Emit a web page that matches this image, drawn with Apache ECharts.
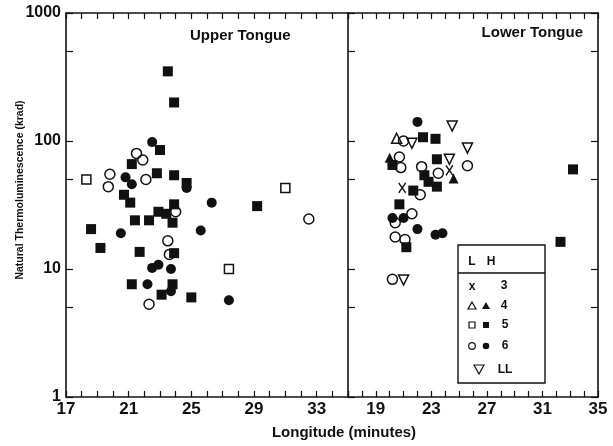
<!DOCTYPE html>
<html><head><meta charset="utf-8">
<script src="https://cdn.jsdelivr.net/npm/echarts@6/dist/echarts.min.js"></script>
<style>html,body{margin:0;padding:0;background:#fff}#c{width:613px;height:446px}</style>
</head><body><div id="c"></div>
<script>
// ---- tick labels ----
const xLabelsUpper = [17, 21, 25, 29, 33];
const xLabelsLower = [19, 23, 27, 31, 35];
const yLabels = [1, 10, 100, 1000];
const yTicks = [1, 5, 10, 50, 100, 500, 1000];
const legendRows = ['3', '4', '5', '6', 'LL'];

// ---- Upper Tongue data [longitude, TL krad] ----
const upperOpenSquare5 = [[18.3, 50], [31.0, 43], [27.4, 10]];
const upperFilledSquare5 = [[23.5, 350], [23.9, 200], [23.0, 85], [21.2, 66], [22.8, 56], [23.9, 54], [24.7, 47],
  [20.7, 38], [21.1, 33], [23.9, 32], [29.2, 31], [22.9, 28], [23.4, 27], [21.4, 24], [22.3, 24], [23.8, 23],
  [18.6, 20.5], [19.2, 14.6], [21.7, 13.6], [23.9, 13.3], [21.2, 7.6], [23.8, 7.6], [23.1, 6.3], [25.0, 6.0]];
const upperOpenCircle6 = [[21.5, 80], [21.9, 71], [19.8, 55], [22.1, 50], [19.7, 44], [24.0, 28], [32.5, 24.6],
  [23.5, 16.6], [23.6, 13.0], [22.3, 5.3]];
const upperFilledCircle6 = [[22.5, 98], [20.8, 52], [21.2, 46], [24.7, 43], [26.3, 33], [20.5, 19], [25.6, 20],
  [22.5, 10.2], [22.9, 10.8], [23.7, 10], [22.2, 7.6], [23.7, 6.7], [27.4, 5.7]];

// ---- Lower Tongue data ----
const lowerCross3 = [[24.3, 59], [20.9, 43]];
const lowerOpenTri4 = [[20.5, 105]];
const lowerFilledTri4 = [[20.0, 74], [24.6, 51]];
const lowerFilledSquare5 = [[22.4, 107], [23.3, 104], [20.2, 65], [23.4, 72], [22.5, 54], [22.8, 48], [23.4, 44],
  [21.7, 41], [20.7, 32], [21.2, 14.8], [33.2, 60], [32.3, 16.3]];
const lowerOpenCircle6 = [[21.0, 100], [20.7, 75], [20.8, 62], [22.3, 63], [25.6, 64], [23.5, 56], [22.2, 38],
  [21.6, 27], [20.4, 23], [20.4, 17.8], [21.1, 17], [20.2, 8.3]];
const lowerFilledCircle6 = [[22.0, 141], [20.2, 25], [21.0, 25], [22.0, 20.5], [23.3, 18.5], [23.8, 19]];
const lowerOpenDownTriLL = [[24.5, 131], [21.6, 96], [25.6, 88], [24.3, 72], [21.0, 8.2]];

const INK = '#111111';
const FONT = 'Liberation Sans, Arial, sans-serif';

function xAxisDef(grid, pos, labels) {
  return {
    type: 'value', gridIndex: grid, position: pos, min: 17, max: 35, interval: 1,
    axisLine: { show: true, lineStyle: { color: INK, width: 1.6 } },
    axisTick: { show: true, inside: true, length: 6, lineStyle: { color: INK, width: 1.2 } },
    splitLine: { show: false },
    axisLabel: labels ? {
      show: true, interval: 0, margin: 4, color: INK, fontFamily: FONT, fontWeight: 'bold', fontSize: 17,
      formatter: v => labels.indexOf(v) >= 0 ? String(v) : ''
    } : { show: false }
  };
}
function yAxisDef(grid, pos, showLabels) {
  return {
    type: 'log', logBase: 10, gridIndex: grid, position: pos, min: 1, max: 1000,
    axisLine: { show: true, lineStyle: { color: INK, width: 1.6 } },
    axisTick: { show: true, inside: true, length: 7, customValues: yTicks, lineStyle: { color: INK, width: 1.2 } },
    splitLine: { show: false },
    axisLabel: showLabels ? {
      show: true, margin: 5, color: INK, fontFamily: FONT, fontWeight: 'bold', fontSize: 16,
      customValues: yLabels, formatter: v => String(Math.round(v))
    } : { show: false }
  };
}

const openStyle = { color: 'rgba(0,0,0,0)', borderColor: INK, borderWidth: 1.5, opacity: 1 };
const fillStyle = { color: INK, opacity: 1 };
function sc(name, data, xi, yi, symbol, size, style, rot) {
  return { type: 'scatter', name, data, xAxisIndex: xi, yAxisIndex: yi, symbol, symbolSize: size,
    symbolRotate: rot || 0, itemStyle: style, clip: false, silent: true };
}
const crossPath = 'path://M0,0L10,12M10,0L0,12';

const chart = echarts.init(document.getElementById('c'));
chart.setOption({
  animation: false,
  backgroundColor: '#fff',
  grid: [
    { left: 66, top: 13, width: 282, height: 384 },
    { left: 348, top: 13, width: 250, height: 384 }
  ],
  xAxis: [
    xAxisDef(0, 'bottom', xLabelsUpper), xAxisDef(0, 'top', null),
    xAxisDef(1, 'bottom', xLabelsLower), xAxisDef(1, 'top', null)
  ],
  yAxis: [
    yAxisDef(0, 'left', true), yAxisDef(1, 'left', false), yAxisDef(1, 'right', false)
  ],
  series: [
    sc('U L5', upperOpenSquare5, 0, 0, 'rect', 9, openStyle),
    sc('U H5', upperFilledSquare5, 0, 0, 'rect', 10, fillStyle),
    sc('U L6', upperOpenCircle6, 0, 0, 'circle', 10, openStyle),
    sc('U H6', upperFilledCircle6, 0, 0, 'circle', 10, fillStyle),
    sc('L 3', lowerCross3, 2, 1, crossPath, [7, 10], { color: 'rgba(0,0,0,0)', borderColor: INK, borderWidth: 1.4, opacity: 1 }),
    sc('L L4', lowerOpenTri4, 2, 1, 'triangle', 10, openStyle),
    sc('L H4', lowerFilledTri4, 2, 1, 'triangle', 10, fillStyle),
    sc('L H5', lowerFilledSquare5, 2, 1, 'rect', 10, fillStyle),
    sc('L L6', lowerOpenCircle6, 2, 1, 'circle', 10, openStyle),
    sc('L H6', lowerFilledCircle6, 2, 1, 'circle', 10, fillStyle),
    sc('L LL', lowerOpenDownTriLL, 2, 1, 'triangle', 10, openStyle, 180)
  ],
  graphic: [
    { type: 'text', x: 20, y: 190, rotation: Math.PI / 2,
      style: { text: 'Natural Thermoluminescence (krad)', fill: INK, font: 'bold 10.5px ' + FONT, align: 'center', verticalAlign: 'middle' } },
    { type: 'text', x: 344, y: 433,
      style: { text: 'Longitude (minutes)', fill: INK, font: 'bold 15px ' + FONT, align: 'center', verticalAlign: 'middle' } },
    { type: 'text', x: 190, y: 36,
      style: { text: 'Upper Tongue', fill: INK, font: 'bold 15px ' + FONT, align: 'left', verticalAlign: 'middle' } },
    { type: 'text', x: 583, y: 33,
      style: { text: 'Lower Tongue', fill: INK, font: 'bold 15px ' + FONT, align: 'right', verticalAlign: 'middle' } },
    // legend box
    { type: 'rect', shape: { x: 458, y: 245, width: 87, height: 138 }, style: { fill: '#fff', stroke: INK, lineWidth: 1.4 } },
    { type: 'line', shape: { x1: 458, y1: 273, x2: 545, y2: 273 }, style: { stroke: INK, lineWidth: 1.4 } },
    { type: 'text', x: 472, y: 262, style: { text: 'L', fill: INK, font: 'bold 12px ' + FONT, align: 'center', verticalAlign: 'middle' } },
    { type: 'text', x: 491, y: 262, style: { text: 'H', fill: INK, font: 'bold 12px ' + FONT, align: 'center', verticalAlign: 'middle' } },
    { type: 'text', x: 472, y: 287, style: { text: 'x', fill: INK, font: 'bold 12px ' + FONT, align: 'center', verticalAlign: 'middle' } },
    { type: 'polygon', shape: { points: [[472, 302], [476, 309], [468, 309]] }, style: { fill: 'none', stroke: INK, lineWidth: 1.2 } },
    { type: 'polygon', shape: { points: [[486, 302], [490, 309], [482, 309]] }, style: { fill: INK } },
    { type: 'rect', shape: { x: 469, y: 322, width: 6, height: 6 }, style: { fill: 'none', stroke: INK, lineWidth: 1.2 } },
    { type: 'rect', shape: { x: 483, y: 322, width: 6, height: 6 }, style: { fill: INK } },
    { type: 'circle', shape: { cx: 472, cy: 346, r: 3.3 }, style: { fill: 'none', stroke: INK, lineWidth: 1.2 } },
    { type: 'circle', shape: { cx: 486, cy: 346, r: 3.3 }, style: { fill: INK } },
    { type: 'polygon', shape: { points: [[474, 365], [484, 365], [479, 374]] }, style: { fill: 'none', stroke: INK, lineWidth: 1.2 } },
    { type: 'text', x: 504, y: 286, style: { text: legendRows[0], fill: INK, font: 'bold 12px ' + FONT, align: 'center', verticalAlign: 'middle' } },
    { type: 'text', x: 504, y: 306, style: { text: legendRows[1], fill: INK, font: 'bold 12px ' + FONT, align: 'center', verticalAlign: 'middle' } },
    { type: 'text', x: 505, y: 325, style: { text: legendRows[2], fill: INK, font: 'bold 12px ' + FONT, align: 'center', verticalAlign: 'middle' } },
    { type: 'text', x: 505, y: 346, style: { text: legendRows[3], fill: INK, font: 'bold 12px ' + FONT, align: 'center', verticalAlign: 'middle' } },
    { type: 'text', x: 505, y: 370, style: { text: legendRows[4], fill: INK, font: 'bold 12px ' + FONT, align: 'center', verticalAlign: 'middle' } }
  ]
});
</script></body></html>
